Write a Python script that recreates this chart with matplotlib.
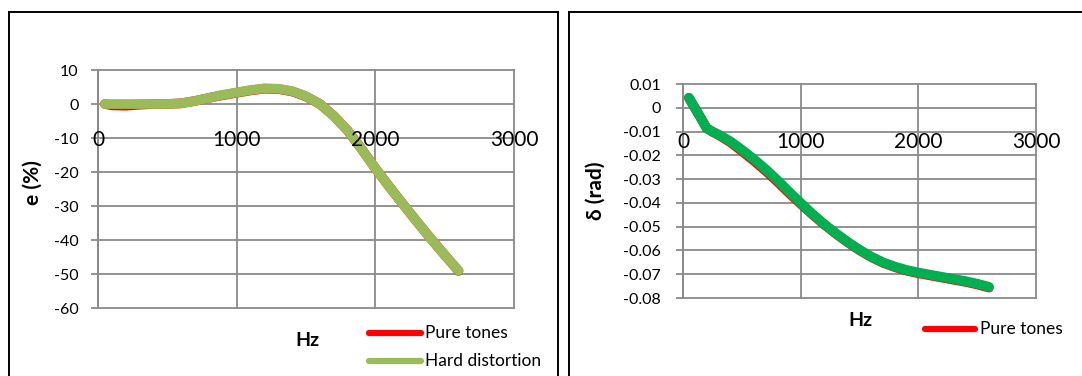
import matplotlib
matplotlib.use("Agg")
import matplotlib.pyplot as plt
from matplotlib.lines import Line2D
from matplotlib.transforms import offset_copy

plt.rcParams['font.family'] = ['Lato', 'DejaVu Sans']

# ---------------- data ----------------
hz_e = [50, 100, 200, 300, 400, 500, 600, 700, 800, 900, 1000, 1100, 1200, 1300,
        1400, 1500, 1600, 1700, 1800, 1900, 2000, 2100, 2200, 2300, 2400, 2500, 2600]
e_pure = [0, -0.4, -0.5, -0.2, 0, 0, 0.2, 0.9, 1.8, 2.6, 3.3, 4.0, 4.5, 4.4,
          3.7, 2.2, 0, -3.5, -7.8, -13.2, -18.9, -24.3, -29.5, -34.6, -39.6, -44.4, -49.1]
e_hard = [0, 0, 0, 0, 0, 0, 0.2, 0.9, 1.8, 2.7, 3.4, 4.1, 4.6, 4.5,
          3.8, 2.3, 0, -3.5, -7.8, -13.2, -18.9, -24.3, -29.5, -34.6, -39.6, -44.4, -49.0]

hz_d = [50, 100, 150, 200, 250, 300, 400, 500, 600, 700, 800, 900, 1000, 1100, 1200,
        1300, 1400, 1500, 1600, 1700, 1800, 1900, 2000, 2100, 2200, 2300, 2400, 2500, 2600]
d_pure = [0.0042, 0.0000, -0.0042, -0.0085, -0.0101, -0.0114, -0.0144, -0.0182, -0.0222,
          -0.0264, -0.0310, -0.0358, -0.0404, -0.0449, -0.0491, -0.0530, -0.0566, -0.0599,
          -0.0628, -0.0652, -0.0670, -0.0685, -0.0696, -0.0705, -0.0714, -0.0723, -0.0732,
          -0.0743, -0.0756]
d_hard = [0.0042, 0.0000, -0.0042, -0.0085, -0.0100, -0.0112, -0.0140, -0.0176, -0.0215,
          -0.0257, -0.0303, -0.0352, -0.0400, -0.0446, -0.0489, -0.0528, -0.0564, -0.0597,
          -0.0626, -0.0650, -0.0668, -0.0682, -0.0693, -0.0702, -0.0711, -0.0720, -0.0729,
          -0.0740, -0.0753]

x_ticks = [0, 1000, 2000, 3000]
e_ticks = [10, 0, -10, -20, -30, -40, -50, -60]
d_ticks = [0.01, 0, -0.01, -0.02, -0.03, -0.04, -0.05, -0.06, -0.07, -0.08]
d_tick_labels = ['0.01', '0', '-0.01', '-0.02', '-0.03', '-0.04', '-0.05', '-0.06', '-0.07', '-0.08']
series_names = ['Pure tones', 'Hard distortion']

# ---------------- figure ----------------
W, H = 1082, 376
fig = plt.figure(figsize=(W / 100, H / 100), dpi=100)

def px(x, y):
    return x / W, 1 - y / H

# panel borders
for (x0, y0, x1, y1) in [(8.5, 11.5, 557.5, 11.5), (8.5, 11.5, 8.5, 380), (557.5, 11.5, 557.5, 380),
                         (568.5, 11.5, 1090, 11.5), (568.5, 11.5, 568.5, 380)]:
    a = px(x0, y0); b = px(x1, y1)
    fig.add_artist(Line2D([a[0], b[0]], [a[1], b[1]], color='black', lw=1.4,
                          transform=fig.transFigure))

GRID = '#8a8a8a'
RED = '#ff0000'
def style_axes(ax, xlim, ylim, yticks, ylabels, label_off_px, xlab_fs=15):
    ax.set_xlim(*xlim)
    ax.set_ylim(*ylim)
    for s in ax.spines.values():
        s.set_visible(False)
    ax.spines['left'].set_visible(True)
    ax.spines['left'].set_color(GRID)
    ax.spines['left'].set_linewidth(1.3)
    ax.set_yticks(yticks)
    ax.set_yticklabels(ylabels, fontsize=11.5)
    ax.set_xticks(x_ticks)
    ax.tick_params(axis='x', length=0, labelbottom=False)
    ax.tick_params(axis='y', direction='out', length=5, width=1.3, color=GRID, pad=9)
    ax.grid(True, color=GRID, lw=1.3)
    ax.set_axisbelow(True)
    for gl in ax.get_xgridlines() + ax.get_ygridlines():
        gl.set_clip_on(False)
    tr = offset_copy(ax.transData, fig=fig, x=0, y=-label_off_px, units='dots')
    for xt in x_ticks:
        ax.text(xt, 0, str(xt), transform=tr, ha='center', va='center',
                fontsize=xlab_fs, color='black')

# ---- left chart ----
ax1 = fig.add_axes([98 / W, 1 - 308 / H, 416 / W, 238 / H])
style_axes(ax1, (0, 3000), (-60, 10), e_ticks, [str(t) for t in e_ticks], 36)
ax1.plot(hz_e, e_pure, color=RED, lw=7, solid_capstyle='round', solid_joinstyle='round')
ax1.plot(hz_e, e_hard, color='#9bbb59', lw=7, solid_capstyle='round', solid_joinstyle='round')
ax1.text(*px(33, 183), 'e (%)', transform=fig.transFigure, rotation=90, ha='center',
         va='center', fontsize=15, fontweight='bold')
ax1.text(*px(307, 340), 'Hz', transform=fig.transFigure, ha='center', va='center',
         fontsize=14, fontweight='bold')
for (yy, col, name) in [(333, RED, series_names[0]), (361, '#9bbb59', series_names[1])]:
    a = px(369, yy); b = px(421, yy)
    fig.add_artist(Line2D([a[0], b[0]], [a[1], b[1]], color=col, lw=4.5,
                          solid_capstyle='round', transform=fig.transFigure))
    fig.text(*px(425, yy), name, ha='left', va='center', fontsize=12.5)

# ---- right chart ----
ax2 = fig.add_axes([683 / W, 1 - 298 / H, 353 / W, 214 / H])
style_axes(ax2, (0, 3000), (-0.08, 0.01), d_ticks, d_tick_labels, 34)
ax2.tick_params(axis='y', pad=11)
ax2.plot(hz_d, d_pure, color=RED, lw=7, solid_capstyle='round', solid_joinstyle='round')
ax2.plot(hz_d, d_hard, color='#00b050', lw=7, solid_capstyle='round', solid_joinstyle='round')
fig.text(*px(596, 191), 'δ (rad)', rotation=90, ha='center', va='center',
         fontsize=15, fontweight='bold')
fig.text(*px(860, 321), 'Hz', ha='center', va='center', fontsize=14, fontweight='bold')
a = px(925, 329); b = px(975, 329)
fig.add_artist(Line2D([a[0], b[0]], [a[1], b[1]], color=RED, lw=4.5,
                      solid_capstyle='round', transform=fig.transFigure))
fig.text(*px(980, 329), series_names[0], ha='left', va='center', fontsize=12.5)

fig.savefig('out.png', dpi=100)
